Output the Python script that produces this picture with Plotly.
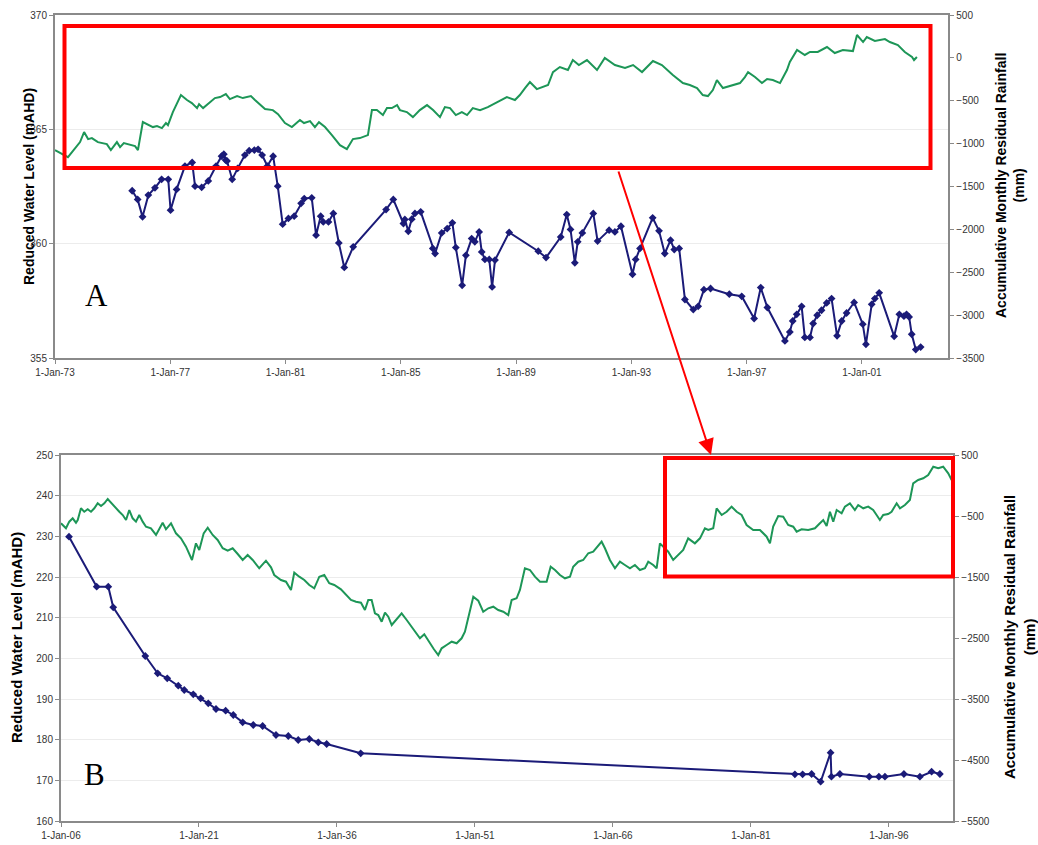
import pandas as pd
import plotly.graph_objects as go

# ---------------- Panel A (1973-2003) ----------------
a_rain_year = [1973.00, 1973.45, 1973.87, 1974.01, 1974.15, 1974.28, 1974.49, 1974.80, 1974.94, 1975.15,
               1975.26, 1975.39, 1975.78, 1975.88, 1976.05, 1976.23, 1976.40, 1976.54, 1976.71, 1976.85,
               1976.92, 1977.09, 1977.37, 1977.58, 1977.75, 1977.93, 1978.00, 1978.14, 1978.38, 1978.55,
               1978.73, 1978.93, 1979.07, 1979.32, 1979.52, 1979.80, 1979.94, 1980.29, 1980.56, 1980.74,
               1980.98, 1981.08, 1981.22, 1981.50, 1981.64, 1981.85, 1982.02, 1982.16, 1982.37, 1982.61,
               1982.89, 1983.13, 1983.34, 1983.58, 1983.86, 1984.00, 1984.17, 1984.38, 1984.52, 1984.69,
               1984.87, 1984.97, 1985.21, 1985.42, 1985.66, 1985.91, 1986.12, 1986.36, 1986.53, 1986.71,
               1986.91, 1987.12, 1987.30, 1987.50, 1987.75, 1988.02, 1988.34, 1988.68, 1988.96, 1989.13,
               1989.31, 1989.48, 1989.72, 1989.93, 1990.11, 1990.28, 1990.52, 1990.80, 1990.97, 1991.18,
               1991.46, 1991.81, 1992.08, 1992.43, 1992.78, 1993.06, 1993.37, 1993.75, 1994.06, 1994.44,
               1994.79, 1995.03, 1995.28, 1995.48, 1995.66, 1995.83, 1995.97, 1996.18, 1996.53, 1996.77,
               1996.94, 1997.05, 1997.29, 1997.53, 1997.71, 1997.91, 1998.16, 1998.40, 1998.50, 1998.75,
               1999.02, 1999.20, 1999.47, 1999.79, 2000.06, 2000.34, 2000.69, 2000.83, 2001.04, 2001.17,
               2001.45, 2001.80, 2001.97, 2002.25, 2002.49, 2002.74, 2002.81, 2002.91]
a_rain_mm = [-1074, -1156, -981, -864, -946, -934, -981, -1004, -1074, -981,
             -1039, -993, -1028, -1074, -748, -783, -806, -794, -818, -759,
             -783, -631, -433, -491, -526, -585, -538, -585, -515, -468,
             -456, -421, -480, -445, -468, -445, -491, -596, -608, -655,
             -759, -783, -806, -724, -759, -736, -806, -748, -806, -899,
             -1016, -1063, -946, -934, -899, -608, -608, -666, -585, -585,
             -550, -608, -631, -690, -608, -550, -608, -690, -573, -585,
             -666, -631, -666, -585, -608, -573, -515, -456, -491, -433,
             -351, -281, -363, -340, -316, -165, -106, -141, -25, -83,
             -25, -141, -1, -83, -118, -83, -165, -36, -83, -200,
             -293, -316, -351, -433, -445, -375, -258, -351, -316, -293,
             -223, -165, -223, -293, -246, -258, -293, -141, -48, 92,
             34, 69, 69, 127, 57, 92, 80, 267, 185, 243,
             197, 220, 185, 150, 69, 10, -25, 10]

a_level_year = [1975.68, 1975.87, 1976.04, 1976.24, 1976.47, 1976.70, 1976.93, 1977.01, 1977.22, 1977.51,
                1977.76, 1977.86, 1978.09, 1978.32, 1978.59, 1978.78, 1978.86, 1978.92, 1978.97, 1979.15,
                1979.34, 1979.59, 1979.74, 1979.92, 1980.05, 1980.19, 1980.37, 1980.57, 1980.73, 1980.90,
                1981.10, 1981.30, 1981.54, 1981.65, 1981.91, 1982.06, 1982.22, 1982.31, 1982.49, 1982.66,
                1982.85, 1983.04, 1983.35, 1984.49, 1984.74, 1985.09, 1985.14, 1985.26, 1985.38, 1985.49,
                1985.69, 1986.11, 1986.19, 1986.42, 1986.61, 1986.79, 1986.91, 1987.13, 1987.26, 1987.46,
                1987.57, 1987.72, 1987.81, 1987.92, 1988.07, 1988.17, 1988.27, 1988.76, 1989.77, 1990.04,
                1990.55, 1990.76, 1990.89, 1991.04, 1991.14, 1991.30, 1991.68, 1991.83, 1992.23, 1992.43,
                1992.64, 1993.04, 1993.15, 1993.30, 1993.74, 1993.96, 1994.16, 1994.36, 1994.49, 1994.66,
                1994.86, 1995.15, 1995.32, 1995.52, 1995.75, 1996.40, 1996.83, 1997.26, 1997.49, 1997.72,
                1998.33, 1998.50, 1998.60, 1998.74, 1998.91, 1999.02, 1999.20, 1999.31, 1999.45, 1999.60,
                1999.78, 1999.95, 2000.14, 2000.30, 2000.47, 2000.73, 2001.03, 2001.14, 2001.34, 2001.45,
                2001.60, 2002.12, 2002.30, 2002.46, 2002.55, 2002.64, 2002.73, 2002.87, 2003.04]
a_level_m = [362.32, 361.94, 361.18, 362.13, 362.45, 362.82, 362.82, 361.47, 362.38, 363.40,
             363.56, 362.52, 362.47, 362.75, 363.40, 363.83, 363.92, 363.66, 363.62, 362.82,
             363.30, 363.88, 364.07, 364.10, 364.13, 363.88, 363.40, 363.83, 362.52, 360.86,
             361.11, 361.21, 361.77, 361.98, 362.01, 360.38, 361.21, 360.96, 360.96, 361.33,
             360.04, 358.97, 359.87, 361.50, 361.94, 360.89, 361.07, 360.55, 361.08, 361.33,
             361.40, 359.80, 359.58, 360.48, 360.67, 360.92, 359.84, 358.19, 359.50, 360.23,
             360.09, 360.52, 359.65, 359.32, 359.32, 358.12, 359.29, 360.50, 359.68, 359.40,
             360.30, 361.28, 360.63, 359.17, 360.09, 360.48, 361.33, 360.12, 360.60, 360.52,
             360.77, 358.67, 359.32, 359.80, 361.14, 360.57, 359.58, 360.16, 359.75, 359.80,
             357.57, 357.13, 357.27, 358.00, 358.05, 357.80, 357.71, 356.74, 358.09, 357.22,
             355.76, 356.15, 356.63, 356.92, 357.27, 355.91, 355.91, 356.52, 356.88, 357.10,
             357.42, 357.61, 355.98, 356.63, 356.98, 357.44, 356.49, 355.61, 357.36, 357.61,
             357.86, 355.96, 356.92, 356.84, 356.92, 356.81, 356.05, 355.38, 355.49]

a_ticks = ["1973-01-01", "1977-01-01", "1981-01-01", "1985-01-01", "1989-01-01",
           "1993-01-01", "1997-01-01", "2001-01-01"]
a_tick_text = ["1-Jan-73", "1-Jan-77", "1-Jan-81", "1-Jan-85", "1-Jan-89",
               "1-Jan-93", "1-Jan-97", "1-Jan-01"]

# ---------------- Panel B (1906-2002) ----------------
b_rain_year = [1906.00, 1906.54, 1906.90, 1907.27, 1907.63, 1907.82, 1908.17, 1908.53, 1908.90, 1909.26,
               1909.62, 1909.99, 1910.35, 1910.71, 1911.08, 1911.43, 1911.79, 1912.34, 1912.71, 1913.07,
               1913.42, 1913.79, 1914.15, 1914.51, 1914.88, 1915.24, 1915.78, 1916.33, 1917.05, 1917.41,
               1917.96, 1918.50, 1919.04, 1919.59, 1920.24, 1920.67, 1921.03, 1921.51, 1921.95, 1922.49,
               1923.03, 1923.58, 1924.12, 1924.66, 1925.21, 1925.75, 1926.29, 1926.84, 1927.55, 1928.28,
               1928.83, 1929.18, 1929.91, 1930.46, 1931.00, 1931.36, 1931.90, 1932.45, 1932.99, 1933.53,
               1934.08, 1934.62, 1935.16, 1935.71, 1936.43, 1936.98, 1937.52, 1938.07, 1938.61, 1939.04,
               1939.40, 1939.77, 1940.13, 1940.49, 1940.86, 1941.22, 1941.58, 1941.95, 1942.49, 1943.03,
               1943.58, 1944.12, 1944.66, 1945.02, 1945.49, 1946.11, 1946.54, 1947.01, 1947.38, 1947.92,
               1948.47, 1949.01, 1949.55, 1949.91, 1950.27, 1950.82, 1951.36, 1951.90, 1952.45, 1952.99,
               1953.53, 1954.08, 1954.62, 1954.99, 1955.53, 1955.89, 1956.43, 1956.98, 1957.52, 1958.07,
               1958.79, 1959.23, 1959.70, 1960.24, 1960.78, 1961.33, 1961.68, 1962.23, 1962.77, 1963.32,
               1963.86, 1964.29, 1964.77, 1965.13, 1965.67, 1966.22, 1966.76, 1967.30, 1967.85, 1968.39,
               1968.93, 1969.48, 1969.84, 1970.38, 1970.75, 1971.11, 1972.01, 1972.55, 1973.10, 1973.64,
               1974.18, 1974.91, 1975.46, 1976.00, 1976.36, 1976.90, 1977.27, 1977.82, 1978.36, 1978.90,
               1979.45, 1979.99, 1980.53, 1981.25, 1981.98, 1982.71, 1983.07, 1983.42, 1983.97, 1984.51,
               1985.05, 1985.60, 1985.97, 1986.51, 1987.23, 1987.96, 1988.50, 1988.86, 1989.23, 1989.59,
               1989.95, 1990.32, 1990.86, 1991.22, 1991.76, 1992.30, 1992.66, 1993.21, 1993.75, 1994.29,
               1994.66, 1995.02, 1995.38, 1995.92, 1996.29, 1996.84, 1997.20, 1997.74, 1998.28, 1998.64,
               1999.18, 1999.73, 2000.27, 2000.82, 2001.36, 2001.90, 2002.45, 2002.82]
b_rain_mm = [-620, -702, -593, -538, -610, -566, -374, -430, -390, -430,
             -374, -292, -336, -292, -221, -282, -336, -430, -484, -566,
             -402, -538, -593, -484, -593, -675, -702, -811, -610, -718,
             -620, -784, -866, -1003, -1221, -948, -1057, -784, -692, -811,
             -893, -1029, -1069, -1029, -1123, -1221, -1139, -1221, -1357, -1233,
             -1341, -1467, -1549, -1577, -1713, -1429, -1495, -1549, -1631, -1685,
             -1495, -1467, -1603, -1631, -1702, -1795, -1877, -1905, -1921, -2041,
             -1877, -1877, -2095, -2123, -2233, -2085, -2151, -2287, -2193, -2095,
             -2205, -2315, -2413, -2505, -2439, -2587, -2685, -2779, -2669, -2615,
             -2561, -2587, -2505, -2397, -2151, -1823, -1888, -2069, -2013, -1987,
             -2041, -2069, -2123, -1877, -1849, -1713, -1357, -1385, -1495, -1577,
             -1577, -1331, -1385, -1467, -1521, -1495, -1331, -1249, -1221, -1111,
             -1085, -1003, -921, -1029, -1221, -1357, -1249, -1303, -1357, -1303,
             -1385, -1357, -1249, -1303, -1357, -948, -1085, -1221, -1139, -1057,
             -866, -948, -866, -702, -729, -702, -374, -484, -430, -347,
             -430, -484, -648, -729, -729, -839, -948, -675, -500, -511,
             -648, -675, -757, -718, -729, -702, -620, -566, -664, -430,
             -593, -402, -456, -347, -292, -402, -320, -374, -347, -402,
             -484, -566, -484, -467, -430, -292, -374, -320, -238, 36,
             90, 118, 172, 308, 282, 308, 200, 90]

b_level_year = [1906.87, 1909.88, 1911.14, 1911.68, 1915.16, 1916.51, 1917.55, 1918.75, 1919.40, 1920.38,
                1921.18, 1922.01, 1922.85, 1923.90, 1924.73, 1925.75, 1926.90, 1927.92, 1929.37, 1930.71,
                1931.79, 1932.99, 1933.97, 1934.88, 1938.58, 1985.78, 1986.62, 1987.60, 1988.58, 1989.66,
                1989.75, 1990.67, 1993.86, 1994.91, 1995.57, 1997.63, 1999.37, 2000.64, 2001.54]
b_level_m = [229.91, 217.61, 217.61, 212.55, 200.57, 196.32, 195.09, 193.27, 192.21, 191.16,
             190.17, 188.94, 187.54, 187.12, 186.07, 184.27, 183.61, 183.36, 181.15, 180.90,
             179.92, 180.16, 179.35, 178.94, 176.65, 171.48, 171.48, 171.56, 169.66, 176.80,
             170.89, 171.56, 170.89, 170.89, 170.89, 171.56, 170.89, 172.12, 171.56]

b_ticks = ["1906-01-01", "1921-01-01", "1936-01-01", "1951-01-01", "1966-01-01",
           "1981-01-01", "1996-01-01"]
b_tick_text = ["1-Jan-06", "1-Jan-21", "1-Jan-36", "1-Jan-51", "1-Jan-66",
               "1-Jan-81", "1-Jan-96"]
b_rain_ticks = [500, -500, -1500, -2500, -3500, -4500, -5500]

Y_TITLE = "Reduced Water Level (mAHD)"
R_TITLE = "Accumulative Monthly Residual Rainfall<br>(mm)"


def to_dates(years):
    """Convert decimal years to timestamps."""
    out = []
    for y in years:
        base = int(y)
        start = pd.Timestamp(base, 1, 1)
        span = (pd.Timestamp(base + 1, 1, 1) - start).days
        out.append(start + pd.Timedelta(days=(y - base) * span))
    return out


W, H = 1038, 845
GREEN = "#1d9657"
NAVY = "#1b1b78"
RED = "#ff0000"
AXIS_GREY = "#8a8a8a"
GRID = "#ececec"
FONT = "Liberation Sans, Arial, sans-serif"


def px_x(p):
    return p / W


def px_y(p):
    return 1 - p / H


fig = go.Figure()

fig.add_trace(go.Scatter(x=to_dates(a_rain_year), y=a_rain_mm, mode="lines",
                         line=dict(color=GREEN, width=2), xaxis="x", yaxis="y2"))
fig.add_trace(go.Scatter(x=to_dates(a_level_year), y=a_level_m, mode="lines+markers",
                         line=dict(color=NAVY, width=2),
                         marker=dict(symbol="diamond", size=6, color=NAVY),
                         xaxis="x", yaxis="y"))
fig.add_trace(go.Scatter(x=to_dates(b_rain_year), y=b_rain_mm, mode="lines",
                         line=dict(color=GREEN, width=2), xaxis="x2", yaxis="y4"))
fig.add_trace(go.Scatter(x=to_dates(b_level_year), y=b_level_m, mode="lines+markers",
                         line=dict(color=NAVY, width=2),
                         marker=dict(symbol="diamond", size=6, color=NAVY),
                         xaxis="x2", yaxis="y3"))

tick_font = dict(family=FONT, size=10, color="#333333")
common_axis = dict(showline=True, linecolor=AXIS_GREY, linewidth=2, ticks="outside",
                   ticklen=4, tickcolor=AXIS_GREY, tickfont=tick_font, zeroline=False,
                   automargin=False)

a_dom_x = [px_x(55), px_x(948.3)]
a_dom_y = [px_y(358.3), px_y(15)]
b_dom_x = [px_x(61), px_x(953.3)]
b_dom_y = [px_y(821), px_y(455)]

fig.update_layout(
    width=W, height=H, margin=dict(l=0, r=0, t=0, b=0, autoexpand=False),
    paper_bgcolor="white", plot_bgcolor="white", showlegend=False,
    xaxis=dict(domain=a_dom_x, anchor="y", type="date",
               range=["1973-01-01", "2004-01-01"], tickvals=a_ticks, ticktext=a_tick_text,
               showgrid=False, mirror=True, **common_axis),
    yaxis=dict(domain=a_dom_y, anchor="x", range=[355, 370], dtick=5,
               showgrid=True, gridcolor=GRID, gridwidth=1, mirror=True, **common_axis),
    yaxis2=dict(overlaying="y", side="right", anchor="x", range=[-3500, 500], dtick=500,
                showgrid=False, **common_axis),
    xaxis2=dict(domain=b_dom_x, anchor="y3", type="date",
                range=["1906-01-01", "2003-01-01"], tickvals=b_ticks, ticktext=b_tick_text,
                showgrid=False, mirror=True, **common_axis),
    yaxis3=dict(domain=b_dom_y, anchor="x2", range=[160, 250], dtick=10,
                showgrid=True, gridcolor=GRID, gridwidth=1, mirror=True, **common_axis),
    yaxis4=dict(overlaying="y3", side="right", anchor="x2", range=[-5500, 500],
                tickvals=b_rain_ticks, showgrid=False, **common_axis),
)

title_font = dict(family=FONT, size=14, color="black")
annotations = [
    dict(text="<b>" + Y_TITLE + "</b>", x=px_x(29), y=px_y(187), textangle=-90,
         font=title_font),
    dict(text="<b>" + R_TITLE + "</b>", x=px_x(1010), y=px_y(186), textangle=-90,
         font=title_font),
    dict(text="<b>" + Y_TITLE + "</b>", x=px_x(16), y=px_y(638), textangle=-90,
         font=dict(family=FONT, size=15, color="black")),
    dict(text="<b>" + R_TITLE + "</b>", x=px_x(1019), y=px_y(637), textangle=-90,
         font=dict(family=FONT, size=15, color="black")),
    dict(text="A", x=px_x(96), y=px_y(295), font=dict(family="Liberation Serif, Times New Roman, serif",
                                                       size=31, color="black")),
    dict(text="B", x=px_x(94), y=px_y(774), font=dict(family="Liberation Serif, Times New Roman, serif",
                                                       size=31, color="black")),
]
for a in annotations:
    a.update(xref="paper", yref="paper", showarrow=False, xanchor="center", yanchor="middle")

# arrow linking the highlighted period of panel A to panel B
annotations.append(dict(x=px_x(711), y=px_y(455), xref="paper", yref="paper",
                        ax=-93, ay=-285, axref="pixel", ayref="pixel",
                        showarrow=True, arrowhead=2, arrowsize=1.6, arrowwidth=2,
                        arrowcolor=RED, text=""))
fig.update_layout(annotations=annotations)

shapes = [
    # white patch behind the panel B label
    dict(type="rect", xref="paper", yref="paper", x0=px_x(62), x1=px_x(138),
         y0=px_y(795), y1=px_y(760), fillcolor="white", line=dict(width=0), layer="between"),
    # highlight boxes
    dict(type="rect", xref="paper", yref="paper", x0=px_x(64.5), x1=px_x(930.5),
         y0=px_y(168), y1=px_y(26), line=dict(color=RED, width=4), fillcolor="rgba(0,0,0,0)"),
    dict(type="rect", xref="paper", yref="paper", x0=px_x(665), x1=px_x(953),
         y0=px_y(576.5), y1=px_y(458), line=dict(color=RED, width=4), fillcolor="rgba(0,0,0,0)"),
]
fig.update_layout(shapes=shapes)

fig.write_html("out.html")
